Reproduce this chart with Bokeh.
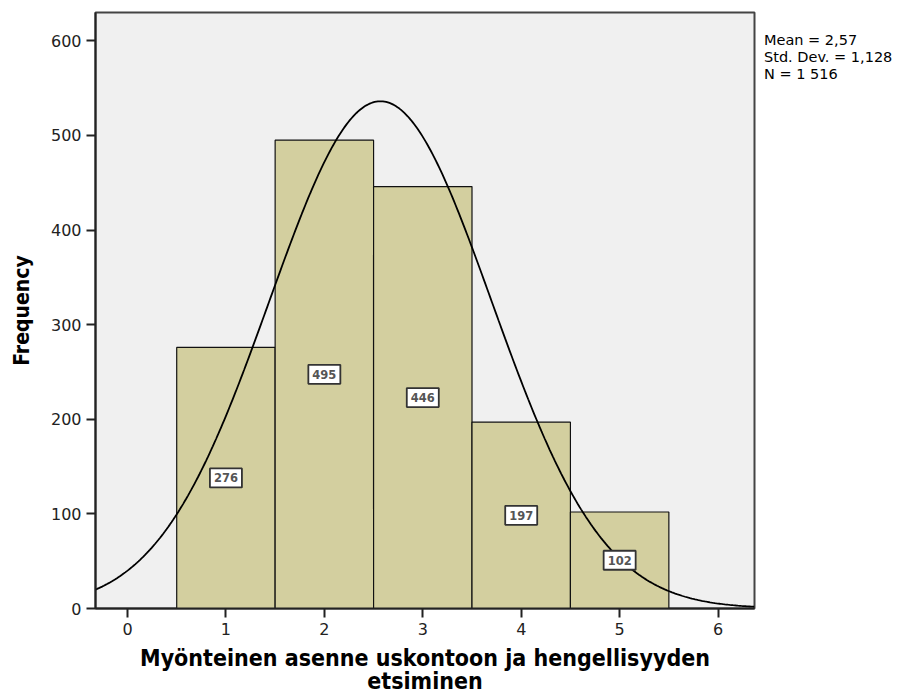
import numpy as np
from bokeh.plotting import figure
from bokeh.models import ColumnDataSource, Range1d, FixedTicker, Div
from bokeh.layouts import row
from bokeh.core.properties import value
from bokeh.embed import file_html
from bokeh.resources import INLINE

# data
categories = [1, 2, 3, 4, 5]
counts = [276, 495, 446, 197, 102]
mean_val = 2.57
std_val = 1.128
n_total = 1516
x_ticks = [0, 1, 2, 3, 4, 5, 6]
y_ticks = [0, 100, 200, 300, 400, 500, 600]
stats_lines = ["Mean = 2,57", "Std. Dev. = 1,128", "N = 1 516"]

H = 697
FL, FR, FT, FB = 95, 754, 12, 608
W = FR + 8
p = figure(width=W, height=H, output_backend="svg", toolbar_location=None,
           x_range=Range1d(-0.325, 6.37), y_range=Range1d(0, 630),
           min_border_left=FL, min_border_right=W - FR, min_border_top=FT, min_border_bottom=H - FB)
p.background_fill_color = "#f0f0f0"
p.border_fill_color = "white"
p.outline_line_color = "#444444"
p.outline_line_width = 2
p.grid.visible = False

src = ColumnDataSource(dict(
    left=[c - 0.5 for c in categories],
    right=[c + 0.5 for c in categories],
    top=counts,
    x=categories,
    ymid=[c / 2 for c in counts],
    lab=[str(c) for c in counts],
))
p.quad(left="left", right="right", bottom=0, top="top", source=src,
       fill_color="#d3cf9f", line_color="#111111", line_width=1.2)

xs = np.linspace(-0.325, 6.37, 400)
ys = n_total * 1.0 / (std_val * np.sqrt(2 * np.pi)) * np.exp(-0.5 * ((xs - mean_val) / std_val) ** 2)
p.line(xs, ys, line_color="black", line_width=1.8)

p.text(x="x", y="ymid", text="lab", source=src, text_align="center",
       text_baseline="middle", text_font_size="11.5px", text_font=value("DejaVu Sans"),
       text_color="#555555", text_font_style="bold",
       background_fill_color="white", border_line_color="#333333",
       border_line_width=1.8, padding=(4, 5))

for ax in (p.xaxis[0], p.yaxis[0]):
    ax.major_label_text_font = "DejaVu Sans"
    ax.major_label_text_font_size = "16px"
    ax.major_label_text_color = "#222222"
    ax.minor_tick_line_color = None
    ax.major_tick_out = 9
    ax.major_tick_in = 0
    ax.major_tick_line_width = 2
    ax.axis_line_width = 2
    ax.major_tick_line_color = "#222222"
    ax.axis_line_color = "#222222"
    ax.axis_label_text_font = "DejaVu Sans Condensed"
    ax.axis_label_text_font_style = "bold"
    ax.axis_label_text_color = "black"
    ax.axis_label_text_line_height = 0.9

p.xaxis[0].axis_label_text_font_size = "23px"
p.yaxis[0].axis_label_text_font_size = "21px"
p.xaxis[0].ticker = FixedTicker(ticks=x_ticks)
p.yaxis[0].ticker = FixedTicker(ticks=y_ticks)
p.xaxis[0].axis_label = "Myönteinen asenne uskontoon ja hengellisyyden\netsiminen"
p.yaxis[0].axis_label = "Frequency"
p.xaxis[0].axis_label_standoff = 7
p.yaxis[0].axis_label_standoff = 14

stats = Div(text="<br>".join(stats_lines), width=154, height=60, margin=(32, 0, 0, 2),
            styles={"font-family": "DejaVu Sans", "font-size": "14.5px",
                    "line-height": "17px", "color": "black", "white-space": "nowrap"})

layout = row(p, stats)
open("out.html", "w").write(file_html(layout, INLINE))
